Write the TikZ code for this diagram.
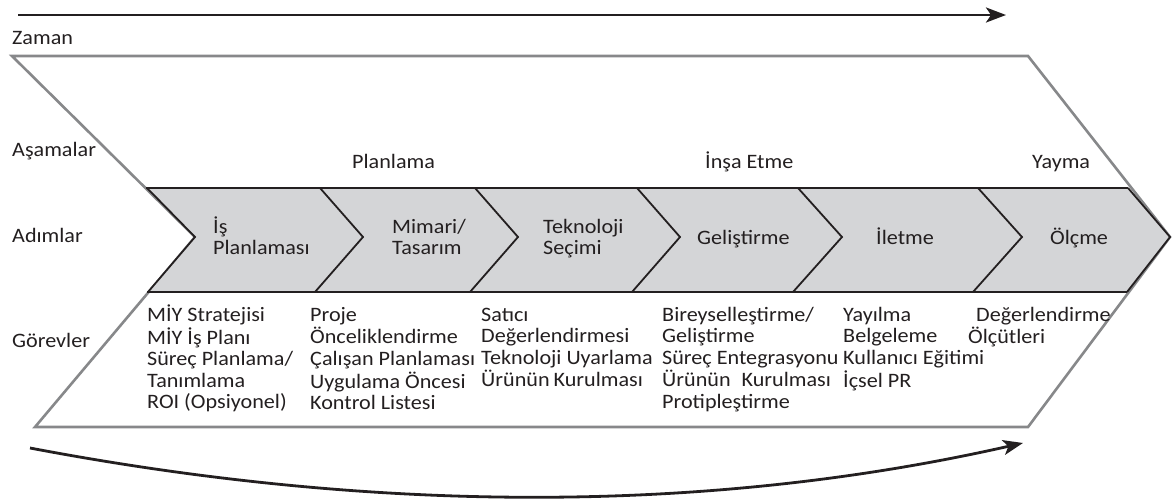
\documentclass[tikz,border=0pt]{standalone}
\usepackage{fontspec}
\setmainfont{Carlito}[FakeStretch=1.08]
\usetikzlibrary{arrows.meta}
\definecolor{outl}{RGB}{135,136,138}
\definecolor{stripfill}{RGB}{212,213,215}
\definecolor{ink}{RGB}{35,31,32}
\newcommand\lines[1]{\begin{tabular}[t]{@{}l@{}}#1\end{tabular}}
\begin{document}
\begin{tikzpicture}[x=1pt,y=-1pt,
  txt/.style={anchor=base west, inner sep=0pt, text=ink, font=\fontsize{20.5}{21.5}\selectfont},
  outline/.style={draw=outl, line width=2.6pt, line join=miter},
  stripline/.style={draw=ink, line width=1.8pt},
  bigarrow/.style={draw=ink, line width=2.8pt, -{Stealth[length=20pt,width=15pt,inset=5pt]}}]
\useasboundingbox (0,0) rectangle (1172,499);
% time arrow
\coordinate (t0) at (18,15);
\coordinate (t1) at (1006,15);
\draw[bigarrow] (t0) -- (t1);
% outer shape
\draw[outline] (12,56) -- (1028,56) -- (1170,237) -- (1028,427) -- (35,427) -- (195,237) -- cycle;
% strip
\fill[stripfill] (147,188) -- (1128,188) -- (1170,237) -- (1127,292) -- (148,292) -- (195,237) -- cycle;
\draw[stripline] (146,188) -- (1128,188);
\draw[stripline] (147,292) -- (1127,292);
\foreach \a/\b/\c in {147/195/148, 320/363/315, 475/518/470, 637/680/632, 798/842/793, 978/1022/973, 1128/1170/1127}
  \draw[stripline, line join=miter] (\a,188) -- (\b,237) -- (\c,292);
% row labels
\node[txt] (zaman) at (12,44) {Zaman};
\node[txt] (asama) at (12,156) {Aşamalar};
\node[txt] (adim) at (12,242) {Adımlar};
\node[txt] (gorev) at (12,347) {Görevler};
% phases
\node[txt] (p1) at (352,168) {Planlama};
\node[txt] (p2) at (705,168) {İnşa Etme};
\node[txt] (p3) at (1032,168) {Yayma};
% steps
\node[txt] (s1) at (213,233) {\lines{İş\\Planlaması}};
\node[txt] (s2) at (392,233) {\lines{Mimari/\\Tasarım}};
\node[txt] (s3) at (543,233) {\lines{Teknoloji\\Seçimi}};
\node[txt] (s4) at (697,244) {Geliştirme};
\node[txt] (s5) at (876,244) {İletme};
\node[txt] (s6) at (1050,244) {Ölçme};
% tasks
\node[txt] (g1) at (147,321) {\lines{MİY Stratejisi\\MİY İş Planı\\Süreç Planlama/\\Tanımlama\\ROI (Opsiyonel)}};
\node[txt] (g2) at (310,321) {\lines{Proje\\Önceliklendirme\\Çalışan Planlaması\\Uygulama Öncesi\\Kontrol Listesi}};
\node[txt] (g3) at (481,321) {\lines{Satıcı\\Değerlendirmesi\\Teknoloji Uyarlama\\Ürünün\hspace{4pt}Kurulması}};
\node[txt] (g4) at (662,321) {\lines{Bireyselleştirme/\\Geliştirme\\Süreç Entegrasyonu\\Ürünün\hspace{11pt}Kurulması\\Protipleştirme}};
\node[txt] (g5) at (843,321) {\lines{Yayılma\\Belgeleme\\Kullanıcı Eğitimi\\İçsel PR}};
\node[txt] (g6) at (968,321) {\lines{\hspace{8pt}Değerlendirme\\Ölçütleri}};
% bottom curved arrow
\coordinate (b0) at (30,448);
\coordinate (b1) at (1023,443);
\draw[bigarrow] (b0) .. controls (383,515) and (714,513) .. (b1);
\end{tikzpicture}
\end{document}
